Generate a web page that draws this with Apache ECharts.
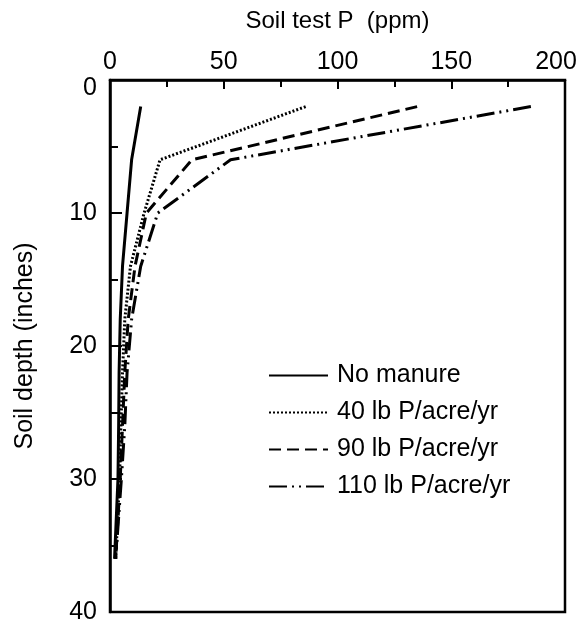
<!DOCTYPE html>
<html>
<head>
<meta charset="utf-8">
<script src="https://cdn.jsdelivr.net/npm/echarts@6/dist/echarts.min.js"></script>
<style>
  html, body { margin: 0; padding: 0; background: #fff; }
  #chart { width: 582px; height: 619px; }
</style>
</head>
<body>
<div id="chart"></div>
<script>
// depth (inches) at which soil test P was measured
const depths = [2, 6, 10, 14, 18, 22, 26, 30, 36]
const seriesNames = ['No manure', '40 lb P/acre/yr', '90 lb P/acre/yr', '110 lb P/acre/yr']
// soil test P (ppm) for each treatment
const noManure = [13.5, 9.5, 7.5, 5.5, 4.5, 4, 3.8, 3.5, 2]
const lb40 = [86, 22, 15, 9, 6.5, 5.5, 4.8, 4.2, 2.5]
const lb90 = [135, 36, 16, 11, 8, 6.5, 5.5, 4.5, 2.5]
const lb110 = [185, 53, 21, 13.5, 9.5, 7.5, 6.5, 5, 2.5]

const xTicks = [0, 50, 100, 150, 200]
const yTicks = [0, 10, 20, 30, 40]

const font = 'Liberation Sans, Arial, sans-serif'
const dashStyles = ['solid', [2, 2], [12, 6], [18, 5, 2, 5, 2, 5]]

const toPairs = (values) => values.map((v, i) => [v, depths[i]])

const chart = echarts.init(document.getElementById('chart'))

chart.setOption({
  backgroundColor: '#fff',
  animation: false,
  grid: {
    left: 110,
    right: 17,
    top: 80,
    bottom: 7,
    outerBoundsMode: 'none',
    show: true,
    borderColor: '#000',
    borderWidth: 2.5
  },
  legend: {
    left: 263,
    top: 358,
    orient: 'vertical',
    itemWidth: 59,
    itemHeight: 14,
    itemGap: 12,
    itemStyle: { opacity: 0 },
    textStyle: { fontFamily: font, fontSize: 25, lineHeight: 25, color: '#000', padding: [0, 0, 0, 4] },
    data: seriesNames
  },
  xAxis: {
    type: 'value',
    position: 'top',
    min: xTicks[0],
    max: xTicks[xTicks.length - 1],
    interval: 50,
    name: 'Soil test P  (ppm)',
    nameLocation: 'middle',
    nameGap: 47,
    nameTextStyle: { fontFamily: font, fontSize: 24, color: '#000' },
    axisLine: { lineStyle: { color: '#000', width: 2.5 } },
    axisTick: { inside: true, length: 9, lineStyle: { color: '#000', width: 2 } },
    minorTick: { show: true, splitNumber: 2, length: 7, lineStyle: { color: '#000', width: 2 } },
    axisLabel: {
      fontFamily: font,
      fontSize: 25,
      color: '#000',
      margin: 5,
      // last label is pulled in a bit so it stays inside the page
      formatter: (value) => (value === 200 ? '{end|200}' : String(value)),
      rich: { end: { fontFamily: font, fontSize: 25, color: '#000', padding: [0, 18, 0, 0] } }
    },
    splitLine: { show: false }
  },
  yAxis: {
    type: 'value',
    inverse: true,
    min: yTicks[0],
    max: yTicks[yTicks.length - 1],
    interval: 10,
    name: 'Soil depth (inches)',
    nameLocation: 'middle',
    nameGap: 72,
    nameRotate: 90,
    nameTextStyle: { fontFamily: font, fontSize: 25, color: '#000' },
    axisLine: { lineStyle: { color: '#000', width: 2.5 } },
    axisTick: { inside: true, length: 12, lineStyle: { color: '#000', width: 2 } },
    minorTick: { show: true, splitNumber: 2, length: 8, lineStyle: { color: '#000', width: 2 } },
    axisLabel: {
      fontFamily: font,
      fontSize: 25,
      color: '#000',
      margin: 13,
      // the 0 label sits a little below the corner in the original
      formatter: (value) => (value === 0 ? '{top|0}' : String(value)),
      rich: { top: { fontFamily: font, fontSize: 25, color: '#000', padding: [16, 0, 0, 0] } }
    },
    splitLine: { show: false }
  },
  series: [noManure, lb40, lb90, lb110].map((values, i) => ({
    name: seriesNames[i],
    type: 'line',
    data: toPairs(values),
    symbol: 'none',
    lineStyle: { color: '#000', width: 3, type: dashStyles[i] },
    itemStyle: { color: '#000' }
  }))
})
</script>
</body>
</html>
